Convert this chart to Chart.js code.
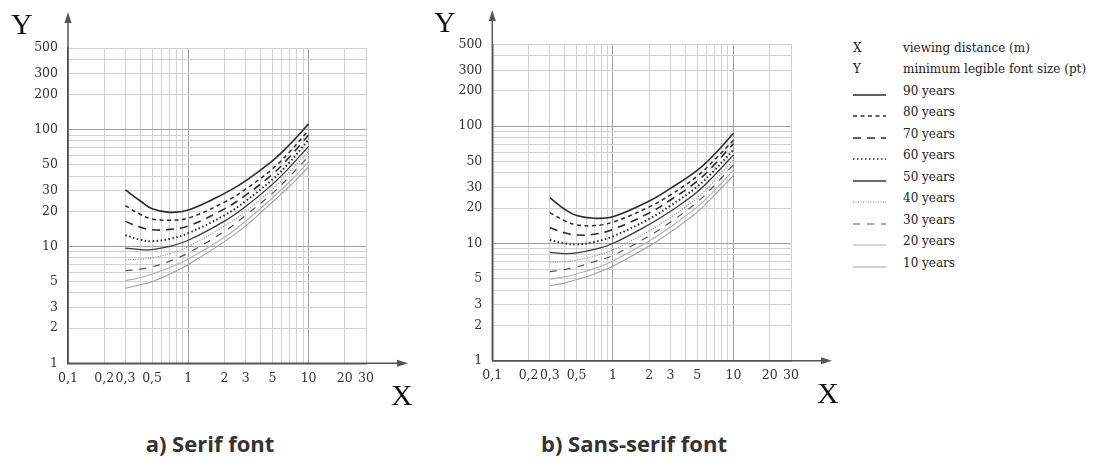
<!DOCTYPE html>
<html>
<head>
<meta charset="utf-8">
<script src="https://cdn.jsdelivr.net/npm/chart.js@4.4.0/dist/chart.umd.min.js"></script>
<style>
  body { margin: 0; background: #fff; width: 1094px; height: 459px; position: relative; overflow: hidden; font-family: "DejaVu Serif", serif; color: #222; }
  canvas { position: absolute; top: 0; }
  .big { position: absolute; font-family: "Liberation Serif", serif; font-size: 30px; line-height: 30px; color: #111; }
  .title { position: absolute; top: 428px; width: 420px; text-align: center; font-family: "Open Sans", sans-serif; font-weight: 700; font-size: 22px; color: #333; }
  #legend { position: absolute; left: 853px; top: 37px; font-size: 12px; }
  .row { height: 21.5px; display: flex; align-items: center; white-space: nowrap; }
  .key { width: 50px; flex: none; }
  .key svg { display: block; margin-top: 8px; }
</style>
</head>
<body>
<canvas id="serifChart" width="420" height="420" style="left:0"></canvas>
<canvas id="sansChart" width="420" height="420" style="left:420px"></canvas>

<div class="big" style="left:11px;top:9px">Y</div>
<div class="big" style="left:391px;top:380px">X</div>
<div class="big" style="left:434px;top:7px">Y</div>
<div class="big" style="left:817px;top:378px">X</div>

<div class="title" style="left:0">a) Serif font</div>
<div class="title" style="left:424px">b) Sans-serif font</div>

<div id="legend"></div>

<script>
// viewing distance (m) where the curves are read
var distances = [0.3, 0.4, 0.5, 0.7, 1, 2, 3, 5, 7, 10];

var ages = ['90 years', '80 years', '70 years', '60 years', '50 years', '40 years', '30 years', '20 years', '10 years'];

// a) serif font, minimum legible size (pt)
var serif90 = [30.5, 24.5, 21, 19.6, 20.5, 28.5, 36.5, 54, 75, 112];
var serif80 = [22.4, 18.8, 17.2, 16.8, 17.5, 24, 31, 46, 65, 99];
var serif70 = [16.4, 14.6, 13.9, 14, 15, 21, 27.5, 41.5, 59, 90];
var serif60 = [12.5, 11.4, 11.1, 11.6, 13, 18.5, 24.5, 37.5, 53, 82];
var serif50 = [9.7, 9.4, 9.4, 10, 11.3, 16.5, 22, 34, 48, 72];
var serif40 = [7.7, 7.8, 8, 8.7, 10, 15, 20, 31, 44, 65];
var serif30 = [6.2, 6.4, 6.7, 7.5, 8.8, 13.5, 18.5, 28.5, 40, 59];
var serif20 = [5.1, 5.4, 5.8, 6.6, 7.8, 12, 16.5, 26, 36, 53];
var serif10 = [4.4, 4.7, 5, 5.8, 7, 11, 15, 24, 33, 48];

// b) sans-serif font
var sans90 = [24.6, 19.5, 17.3, 16.4, 16.9, 23, 29.5, 42, 58, 87];
var sans80 = [18.3, 15.6, 14.4, 14.2, 15.2, 20.5, 26, 37.5, 52, 76];
var sans70 = [13.6, 12.3, 11.8, 12, 13.2, 18.2, 23.5, 34, 47.5, 71];
var sans60 = [10.7, 10, 9.8, 10.3, 11.5, 16.2, 21, 30.5, 42.5, 63];
var sans50 = [8.4, 8.2, 8.3, 8.9, 10, 14.5, 18.8, 27.5, 38.5, 57];
var sans40 = [6.9, 7, 7.2, 7.8, 8.8, 12.8, 16.7, 24.5, 34.5, 52];
var sans30 = [5.75, 6, 6.3, 7, 7.9, 11.6, 15.2, 22.5, 31.5, 47];
var sans20 = [4.95, 5.2, 5.5, 6.1, 7.1, 10.5, 13.8, 20.5, 28.5, 42];
var sans10 = [4.36, 4.6, 4.9, 5.5, 6.4, 9.5, 12.5, 18.5, 26, 38];

var serifSeries = [serif90, serif80, serif70, serif60, serif50, serif40, serif30, serif20, serif10];
var sansSeries = [sans90, sans80, sans70, sans60, sans50, sans40, sans30, sans20, sans10];

// grid lines and labelled ticks
var xGrid = [0.1, 0.2, 0.3, 0.4, 0.5, 0.6, 0.7, 0.8, 0.9, 1, 2, 3, 4, 5, 6, 7, 8, 9, 10, 20, 30];
var xLabelled = [0.1, 0.2, 0.3, 0.5, 1, 2, 3, 5, 10, 20, 30];
var yGrid = [1, 2, 3, 4, 5, 6, 7, 8, 9, 10, 20, 30, 40, 50, 60, 70, 80, 90, 100, 200, 300, 400, 500];
var yLabelled = [1, 2, 3, 5, 10, 20, 30, 50, 100, 200, 300, 500];

// line look for each age, top curve first
var looks = [
  {color: '#2b2b2b', width: 1.6, dash: []},
  {color: '#2b2b2b', width: 1.5, dash: [4, 3.5]},
  {color: '#2b2b2b', width: 1.6, dash: [8, 6]},
  {color: '#2b2b2b', width: 2, dash: [1.5, 2.5]},
  {color: '#3a3a3a', width: 1.3, dash: []},
  {color: '#8a8a8a', width: 1.1, dash: [1, 1.5]},
  {color: '#555555', width: 1.2, dash: [7, 7]},
  {color: '#b0b0b0', width: 1.1, dash: []},
  {color: '#a0a0a0', width: 1.1, dash: []}
];

var arrows = {
  id: 'arrows',
  afterDraw: function(chart, args, opts) {
    var ctx = chart.ctx, a = chart.chartArea;
    ctx.save();
    ctx.strokeStyle = '#555';
    ctx.fillStyle = '#555';
    ctx.lineWidth = 1.5;
    ctx.beginPath();
    ctx.moveTo(a.left, a.bottom);
    ctx.lineTo(a.left, opts.top + 8);
    ctx.moveTo(a.left, a.bottom);
    ctx.lineTo(opts.right - 8, a.bottom);
    ctx.stroke();
    ctx.beginPath();
    ctx.moveTo(a.left, opts.top);
    ctx.lineTo(a.left - 3.5, opts.top + 11);
    ctx.lineTo(a.left + 3.5, opts.top + 11);
    ctx.fill();
    ctx.beginPath();
    ctx.moveTo(opts.right, a.bottom);
    ctx.lineTo(opts.right - 11, a.bottom - 3.5);
    ctx.lineTo(opts.right - 11, a.bottom + 3.5);
    ctx.fill();
    ctx.restore();
  }
};

function fmt(v) {
  return String(v).replace('.', ',');
}

function makeChart(id, series, box) {
  var datasets = series.map(function(vals, i) {
    return {
      label: ages[i],
      data: distances.map(function(x, j) { return {x: x, y: vals[j]}; }),
      borderColor: looks[i].color,
      borderWidth: looks[i].width,
      borderDash: looks[i].dash,
      pointRadius: 0,
      tension: 0.4,
      fill: false
    };
  });

  return new Chart(document.getElementById(id), {
    type: 'line',
    data: {datasets: datasets},
    plugins: [arrows],
    options: {
      responsive: false,
      animation: false,
      layout: {padding: {left: 0, right: box.padRight, top: box.top, bottom: box.padBottom}},
      plugins: {
        legend: {display: false},
        tooltip: {enabled: false},
        arrows: {top: box.arrowTop, right: box.arrowRight}
      },
      scales: {
        x: {
          type: 'logarithmic',
          min: 0.1,
          max: 30,
          afterBuildTicks: function(scale) {
            scale.ticks = xGrid.map(function(v) { return {value: v}; });
          },
          afterFit: function(scale) { scale.height = 30; },
          grid: {
            drawTicks: false,
            color: function(c) {
              var v = c.tick ? c.tick.value : 0;
              return (v === 1 || v === 10) ? '#a0a0a0' : '#d2d2d2';
            },
            lineWidth: 1
          },
          border: {display: true, color: '#555', width: 1.5},
          ticks: {
            autoSkip: false,
            maxRotation: 0,
            padding: 8,
            color: '#333',
            font: {family: 'DejaVu Serif', size: 12.5},
            callback: function(v) { return xLabelled.indexOf(v) >= 0 ? fmt(v) : ''; }
          }
        },
        y: {
          type: 'logarithmic',
          min: 1,
          max: 500,
          afterBuildTicks: function(scale) {
            scale.ticks = yGrid.map(function(v) { return {value: v}; });
          },
          afterFit: function(scale) { scale.width = box.left; },
          grid: {
            drawTicks: false,
            color: function(c) {
              var v = c.tick ? c.tick.value : 0;
              return (v === 10 || v === 100) ? '#a0a0a0' : '#d2d2d2';
            },
            lineWidth: 1
          },
          border: {display: true, color: '#555', width: 1.5},
          ticks: {
            autoSkip: false,
            padding: 10,
            color: '#333',
            font: {family: 'DejaVu Serif', size: 12.5},
            callback: function(v) { return yLabelled.indexOf(v) >= 0 ? String(v) : ''; }
          }
        }
      }
    }
  });
}

makeChart('serifChart', serifSeries, {left: 68, padRight: 54, top: 48, padBottom: 26.7, arrowTop: 12, arrowRight: 408});
makeChart('sansChart', sansSeries, {left: 72.3, padRight: 49, top: 44.3, padBottom: 29.3, arrowTop: 10, arrowRight: 412});

// legend on the right
var legend = document.getElementById('legend');
function addRow(keyHtml, text) {
  var row = document.createElement('div');
  row.className = 'row';
  row.innerHTML = '<div class="key">' + keyHtml + '</div><div>' + text + '</div>';
  legend.appendChild(row);
}
addRow('X', 'viewing distance (m)');
addRow('Y', 'minimum legible font size (pt)');
ages.forEach(function(age, i) {
  var l = looks[i];
  var svg = '<svg width="34" height="4"><line x1="0" y1="2" x2="33" y2="2" stroke="' + l.color +
    '" stroke-width="' + Math.min(l.width, 1.3) + '" stroke-dasharray="' + (l.dash.length ? l.dash.join(' ') : 'none') + '"/></svg>';
  addRow(svg, age);
});
</script>
</body>
</html>
